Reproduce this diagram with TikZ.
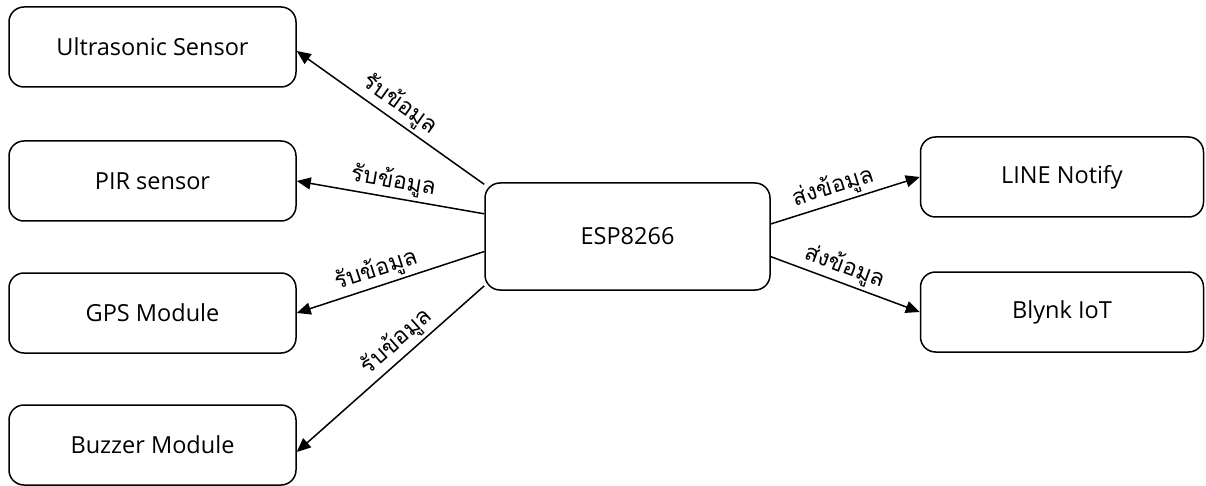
\documentclass[tikz,border=0pt]{standalone}
\usepackage{fontspec}
\setmainfont{Open Sans}
\newfontfamily\thaifont[Script=Thai]{Loma}
\usetikzlibrary{arrows.meta}
\begin{document}
\begin{tikzpicture}[x=1pt,y=-1pt,
  box/.style={draw, line width=1.5pt, rounded corners=15pt, minimum width=287pt, minimum height=80pt, inner sep=0pt, font=\fontsize{23.5}{26}\selectfont},
  conn/.style={line width=1.5pt, -{Triangle[length=14pt,width=12pt]}},
  lbl/.style={font=\thaifont\fontsize{23}{26}\selectfont, inner sep=3pt}]
\useasboundingbox (0,0) rectangle (1206,486);
\node[box] (us) at (152.5,47) {Ultrasonic Sensor};
\node[box] (pir) at (152.5,181) {PIR sensor};
\node[box] (gps) at (152.5,313) {GPS Module};
\node[box] (buz) at (152.5,445) {Buzzer Module};
\node[box, minimum width=285pt, minimum height=107pt] (esp) at (627.5,236.5) {ESP8266};
\node[box, minimum width=283pt] (ln) at (1062,177) {LINE Notify};
\node[box, minimum width=283pt] (bk) at (1062,312) {Blynk IoT};
\draw[conn] (esp.160.6) -- node[lbl, pos=0.5, above, sloped] {รับข้อมูล} ([yshift=-4pt]us.east);
\draw[conn] (esp.171) -- node[lbl, pos=0.5, above, sloped] {รับข้อมูล} (pir.east);
\draw[conn] (esp.186.2) -- node[lbl, pos=0.55, above, sloped] {รับข้อมูล} (gps.east);
\draw[conn] (esp.199.7) -- node[lbl, pos=0.41, above, sloped] {รับข้อมูล} ([yshift=-7pt]buz.east);
\draw[conn] (esp.5.8) -- node[lbl, pos=0.45, above, sloped] {ส่งข้อมูล} (ln.west);
\draw[conn] (esp.-8.2) -- node[lbl, pos=0.46, above, sloped] {ส่งข้อมูล} (bk.west);
\end{tikzpicture}
\end{document}
